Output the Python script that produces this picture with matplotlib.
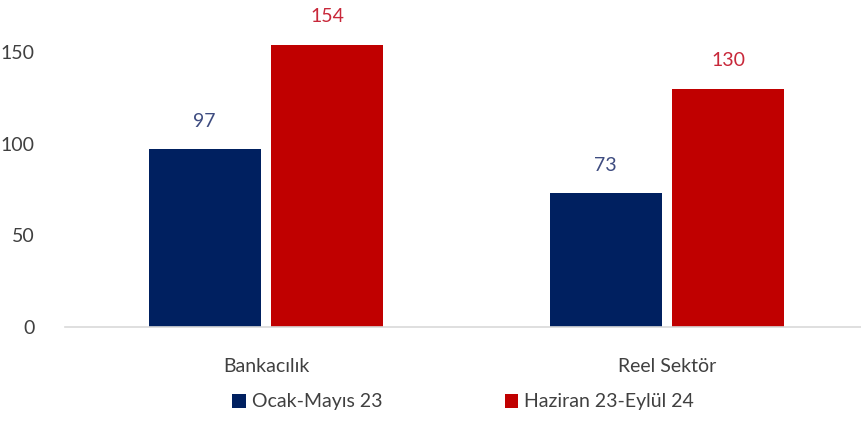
import numpy as np
import matplotlib.pyplot as plt
from matplotlib.patches import Patch

# data
categories = ["Bankacılık", "Reel Sektör"]
series_names = ["Ocak-Mayıs 23", "Haziran 23-Eylül 24"]
ocak_mayis = [97, 73]
haziran_eylul = [154, 130]

bar_colors = ["#002060", "#C00000"]
label_colors = ["#3E4C80", "#C8283A"]
text_gray = "#404040"

plt.rcParams['font.family'] = ['Lato', 'DejaVu Sans']

fig = plt.figure(figsize=(8.62, 4.21), dpi=100)
ax = fig.add_axes([65 / 862, 94 / 421, 797 / 862, 311.7 / 421])

x = np.arange(len(categories))
width = 0.279
offset = 0.153

for vals, off, col, lcol in zip([ocak_mayis, haziran_eylul], [-offset, offset],
                                bar_colors, label_colors):
    bars = ax.bar(x + off, vals, width=width, color=col)
    for b, v in zip(bars, vals):
        ax.annotate(str(v), (b.get_x() + b.get_width() / 2, v),
                    xytext=(0, 20), textcoords="offset points",
                    ha="center", va="center", fontsize=14, color=lcol)

ax.set_xlim(-0.501, 1.486)
ax.set_ylim(0, 170)
ax.set_yticks([0, 50, 100, 150])
ax.set_xticks(x)
ax.set_xticklabels(categories)

for s in ["top", "right", "left"]:
    ax.spines[s].set_visible(False)
ax.spines["bottom"].set_color("#D9D9D9")
ax.spines["bottom"].set_linewidth(1.2)

ax.tick_params(axis="y", length=0, labelsize=14, labelcolor=text_gray, pad=22)
ax.tick_params(axis="x", length=0, labelsize=14, labelcolor=text_gray, pad=22)

handles = [Patch(facecolor=c, label=n) for c, n in zip(bar_colors, series_names)]
leg = fig.legend(handles=handles, loc="center", bbox_to_anchor=(463 / 862, 1 - 402 / 421),
                 ncol=2, frameon=False, fontsize=14, handlelength=0.7, handleheight=0.7,
                 handletextpad=0.3, columnspacing=6.3)
for t in leg.get_texts():
    t.set_color(text_gray)

fig.savefig("out.png", dpi=100)
